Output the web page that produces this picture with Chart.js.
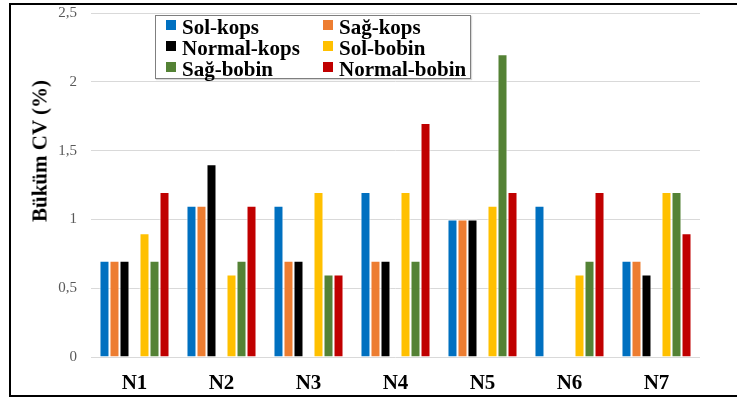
<!DOCTYPE html>
<html>
<head>
<meta charset="utf-8">
<script src="https://cdn.jsdelivr.net/npm/chart.js@4.4.1/dist/chart.umd.min.js"></script>
<style>
  html, body { margin: 0; padding: 0; background: #fff; }
  #wrap { position: relative; width: 737px; height: 401px; overflow: hidden; background: #fff; }
  #chart { position: absolute; left: 0; top: 0; }
  #frame { position: absolute; left: 9px; top: 3px; width: 780px; height: 394px; box-sizing: border-box; border: 2px solid #000; pointer-events: none; }
  #ytitle { position: absolute; left: 40px; top: 151px; transform: translate(-50%, -50%) rotate(-90deg);
            font: bold 21px "Liberation Serif", serif; color: #000; white-space: nowrap; }
  #legend { position: absolute; left: 155px; top: 15px; width: 316px; height: 64px; box-sizing: border-box;
            border: 1.5px solid #7f7f7f; background: #fff; box-shadow: 1px 1px 1px rgba(0,0,0,0.15); }
  .lg-item { position: absolute; height: 20px; white-space: nowrap; }
  .lg-box { position: absolute; left: 0; top: 5px; width: 10px; height: 10px; }
  .lg-text { position: absolute; left: 16px; top: 0; line-height: 20px; font: bold 21px "Liberation Serif", serif; color: #000; }
</style>
</head>
<body>
<div id="wrap">
  <canvas id="chart" width="737" height="401"></canvas>
  <div id="ytitle">Büküm CV (%)</div>
  <div id="legend"></div>
  <div id="frame"></div>
</div>
<script>
// Yarn samples along the x axis
const categories = ['N1', 'N2', 'N3', 'N4', 'N5', 'N6', 'N7'];

// Twist CV (%) per sample and measuring point
const solKops     = [0.7, 1.1, 1.1, 1.2, 1.0, 1.1, 0.7];
const sagKops     = [0.7, 1.1, 0.7, 0.7, 1.0, null, 0.7];
const normalKops  = [0.7, 1.4, 0.7, 0.7, 1.0, null, 0.6];
const solBobin    = [0.9, 0.6, 1.2, 1.2, 1.1, 0.6, 1.2];
const sagBobin    = [0.7, 0.7, 0.6, 0.7, 2.2, 0.7, 1.2];
const normalBobin = [1.2, 1.1, 0.6, 1.7, 1.2, 1.2, 0.9];

// Y axis tick labels (Turkish decimal comma)
const yTickLabels = ['0', '0,5', '1', '1,5', '2', '2,5'];

const seriesNames  = ['Sol-kops', 'Sağ-kops', 'Normal-kops', 'Sol-bobin', 'Sağ-bobin', 'Normal-bobin'];
const seriesColors = ['#0070C0', '#ED7D31', '#000000', '#FFC000', '#548235', '#C00000'];
const seriesValues = [solKops, sagKops, normalKops, solBobin, sagBobin, normalBobin];

const datasets = seriesNames.map((name, i) => ({
  label: name,
  data: seriesValues[i],
  backgroundColor: seriesColors[i],
  borderColor: 'rgba(255,255,255,0.85)',
  borderWidth: 1,
  borderSkipped: 'bottom',
  barPercentage: 1.0,
  categoryPercentage: 0.805
}));
// empty slot between the kops and bobin groups
datasets.splice(3, 0, {
  label: '',
  data: categories.map(() => null),
  backgroundColor: 'rgba(0,0,0,0)',
  barPercentage: 1.0,
  categoryPercentage: 0.805
});

new Chart(document.getElementById('chart'), {
  type: 'bar',
  data: { labels: categories, datasets: datasets },
  options: {
    responsive: false,
    animation: false,
    devicePixelRatio: 1,
    layout: { padding: { left: 30, right: 37, top: 13, bottom: 0 } },
    plugins: { legend: { display: false }, tooltip: { enabled: false } },
    scales: {
      x: {
        grid: { display: false, drawTicks: false },
        border: { display: false },
        ticks: {
          color: '#000',
          padding: 14,
          font: { family: '"Liberation Serif", serif', size: 21, weight: 'bold' }
        },
        afterFit: (s) => { s.height = 44; s.paddingLeft = 0; s.paddingRight = 0; }
      },
      y: {
        min: 0,
        max: 2.5,
        grid: { color: '#d9d9d9', lineWidth: 1, drawTicks: false },
        border: { display: false },
        ticks: {
          stepSize: 0.5,
          padding: 14,
          color: '#595959',
          font: { family: '"Liberation Serif", serif', size: 15 },
          callback: (v, i) => yTickLabels[i]
        },
        afterFit: (s) => { s.width = 61; s.paddingTop = 0; s.paddingBottom = 0; }
      }
    }
  }
});

// Boxed two-column legend
const legend = document.getElementById('legend');
seriesNames.forEach((name, i) => {
  const col = i % 2, row = Math.floor(i / 2);
  const item = document.createElement('div');
  item.className = 'lg-item';
  item.style.left = (col === 0 ? 10 : 167) + 'px';
  item.style.top = (row * 21 - 1) + 'px';
  const box = document.createElement('div');
  box.className = 'lg-box';
  box.style.background = seriesColors[i];
  const txt = document.createElement('div');
  txt.className = 'lg-text';
  txt.textContent = name;
  item.appendChild(box);
  item.appendChild(txt);
  legend.appendChild(item);
});
</script>
</body>
</html>
